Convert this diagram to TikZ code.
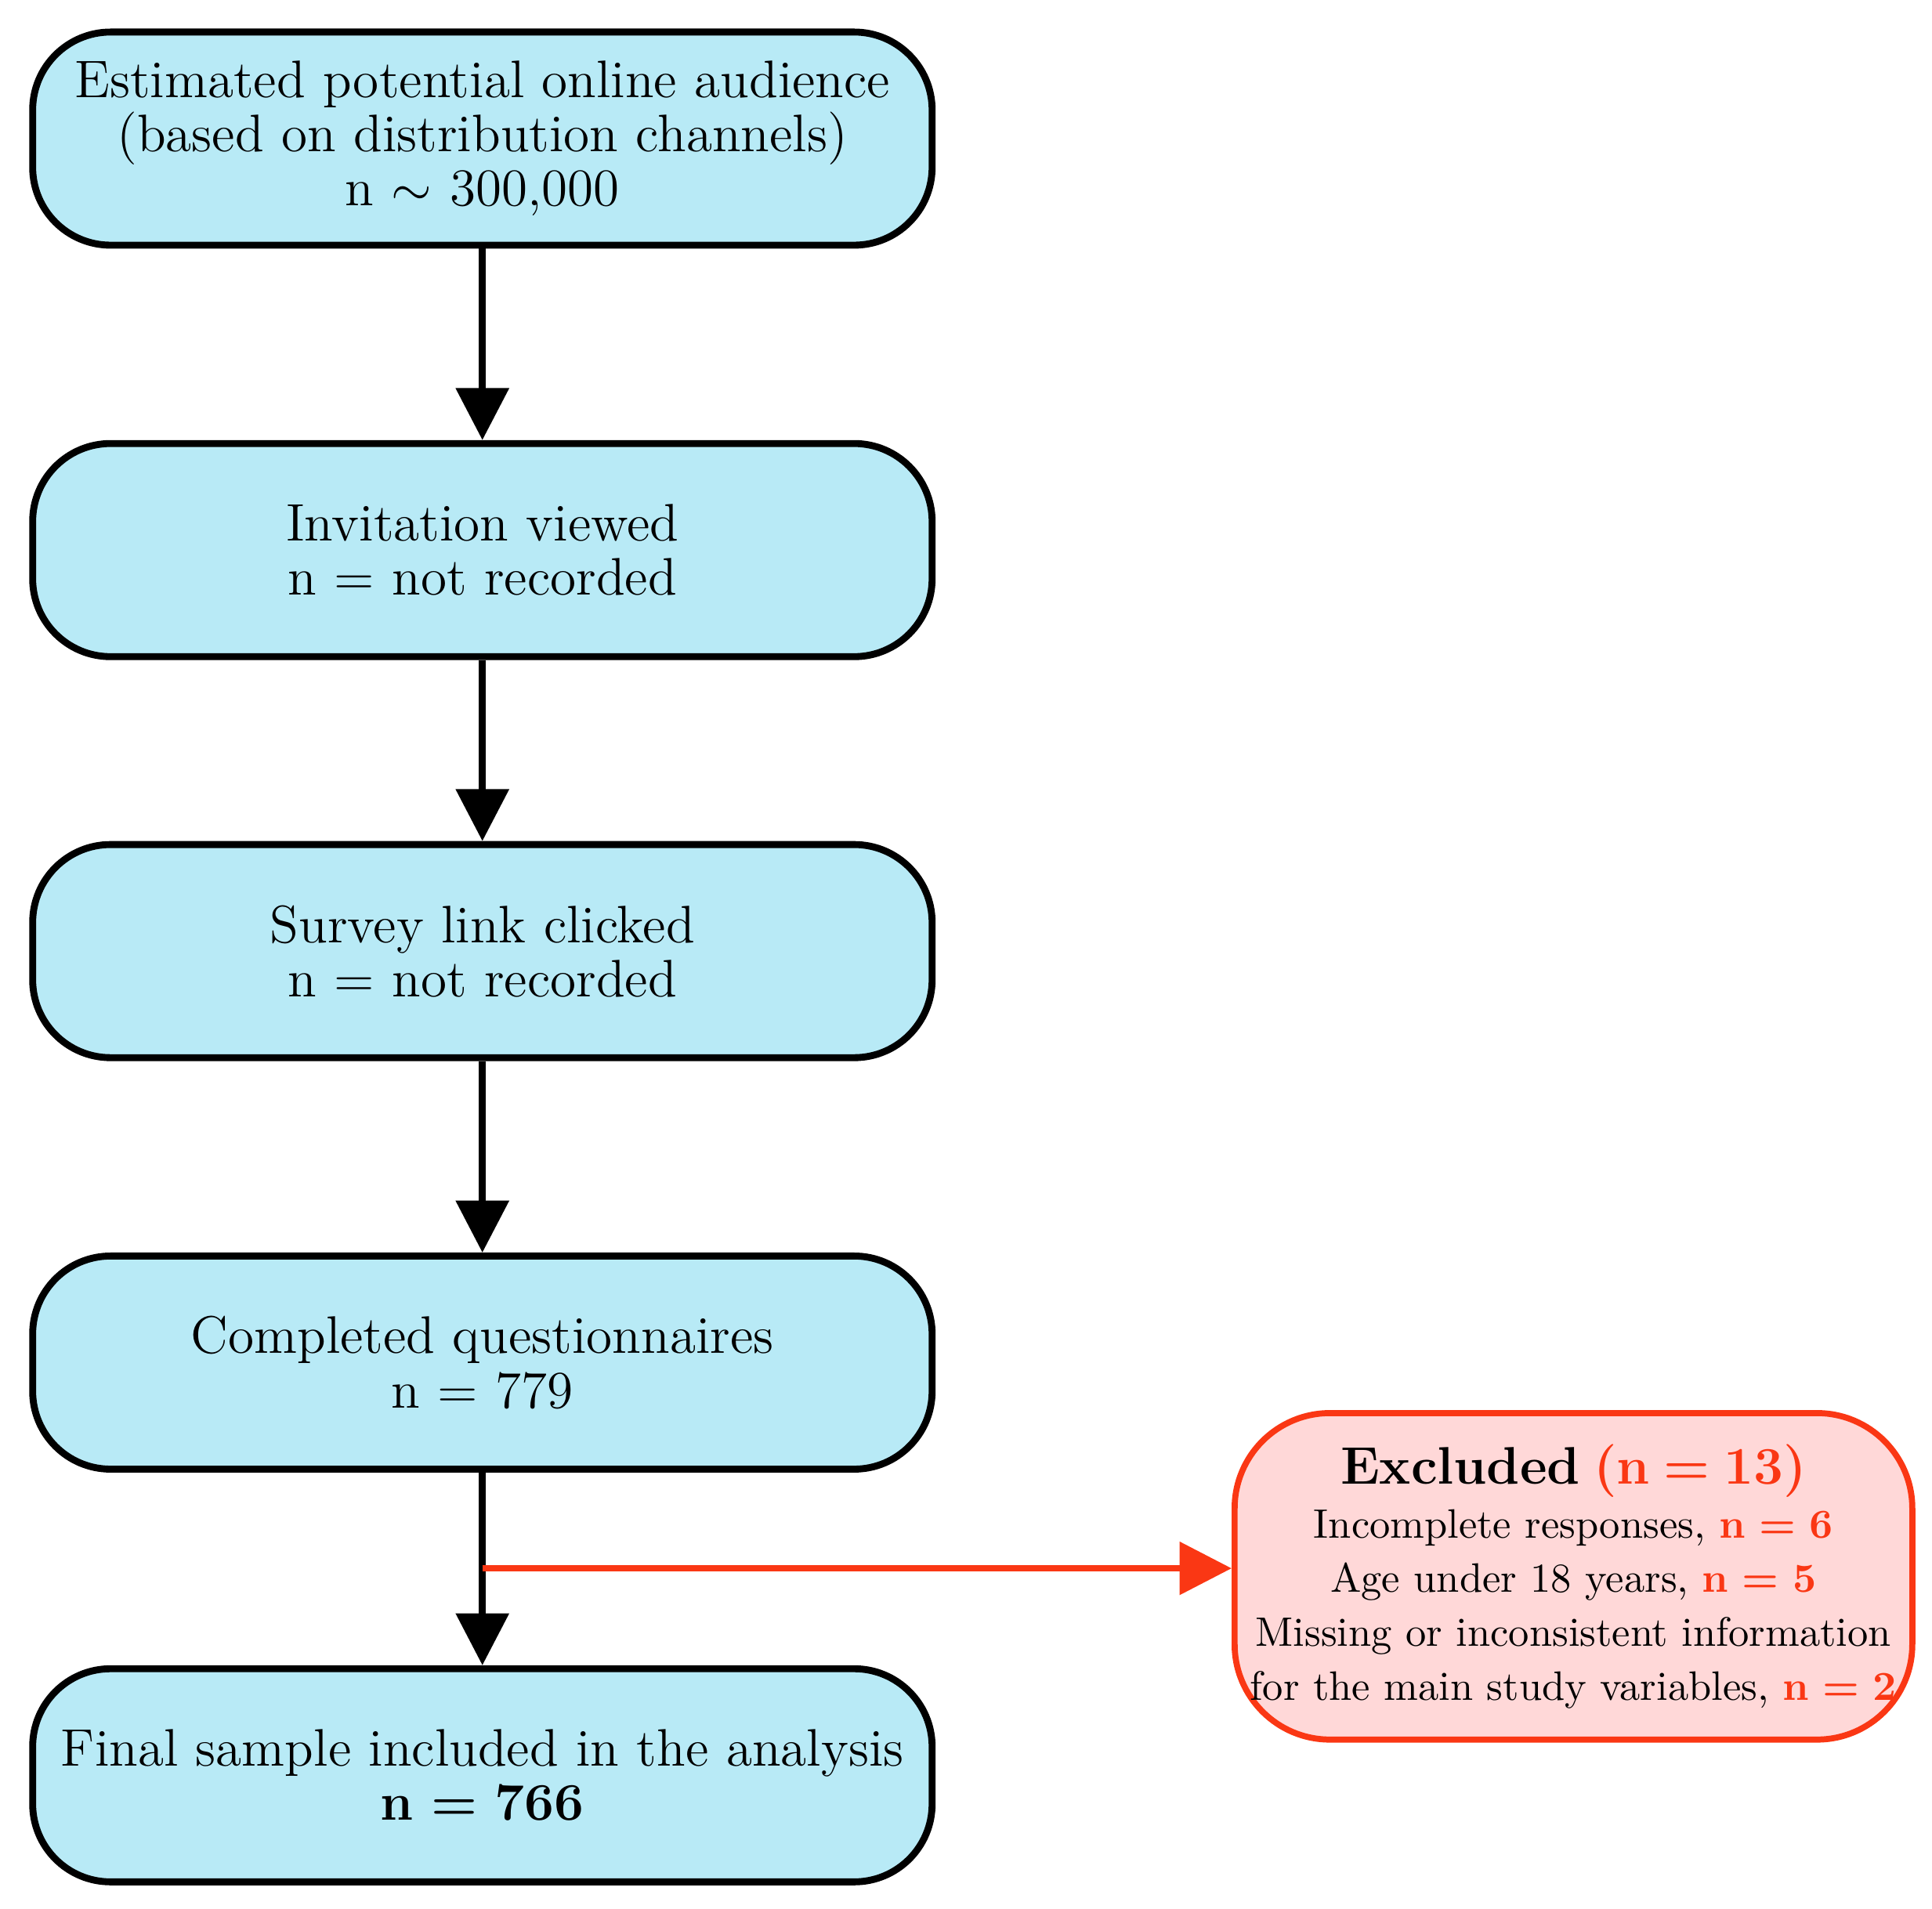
\documentclass[tikz,border=0pt]{standalone}
\usepackage{tikz}
\usetikzlibrary{positioning, arrows.meta}
\definecolor{boxblue}{RGB}{184,234,246}
\definecolor{exred}{RGB}{250,55,20}
\definecolor{exfill}{RGB}{255,216,216}
\tikzset{
    stage/.style={draw, line width=1.6pt, rounded corners=18pt, fill=boxblue, text width=7.2cm, minimum height=1.73cm, inner xsep=0.05cm, align=center, font=\fontsize{12.2}{12.5}\selectfont},
    excl/.style={draw=exred, line width=1.4pt, rounded corners=22pt, fill=exfill, text width=5.5cm, minimum height=2.65cm, inner xsep=0pt, align=center, font=\fontsize{9.5}{12.5}\selectfont},
    flow/.style = {-{Triangle[length=12pt,width=12pt]}, line width=1.6pt},
    exflow/.style = {-{Triangle[length=12pt,width=12pt]}, line width=1.4pt, exred} }
\begin{document}
\begin{tikzpicture}
    \useasboundingbox (0,0) rectangle (15.68,-15.49);
    \node[stage] (aud) at (3.915,-1.125) {Estimated potential online audience\\(based on distribution channels)\\n $\sim$ 300,000};
    \node[stage] (inv) at (3.915,-4.465) {Invitation viewed\\n = not recorded};
    \node[stage] (link) at (3.915,-7.72) {Survey link clicked\\n = not recorded};
    \node[stage] (comp) at (3.915,-11.06) {Completed questionnaires\\n = 779};
    \node[stage] (fin) at (3.915,-14.41) {Final sample included in the analysis\\\textbf{n = 766}};
    \node[excl] (exc) at (12.77,-12.795) {{\fontsize{12.2}{12.5}\selectfont\textbf{Excluded} \textcolor{exred}{\textbf{(n = 13)}}}\\
        Incomplete responses, \textcolor{exred}{\textbf{n = 6}}\\
        Age under 18 years, \textcolor{exred}{\textbf{n = 5}}\\
        Missing or inconsistent information\\
        for the main study variables, \textcolor{exred}{\textbf{n = 2}}};
    % ----
    \coordinate (split) at (3.915,-12.73);
    \draw[flow] (aud) -- (inv);
    \draw[flow] (inv) -- (link);
    \draw[flow] (link) -- (comp);
    \draw[flow] (comp) -- (fin);
    \draw[exflow] (split) -- (split -| exc.west);
\end{tikzpicture}
\end{document}
